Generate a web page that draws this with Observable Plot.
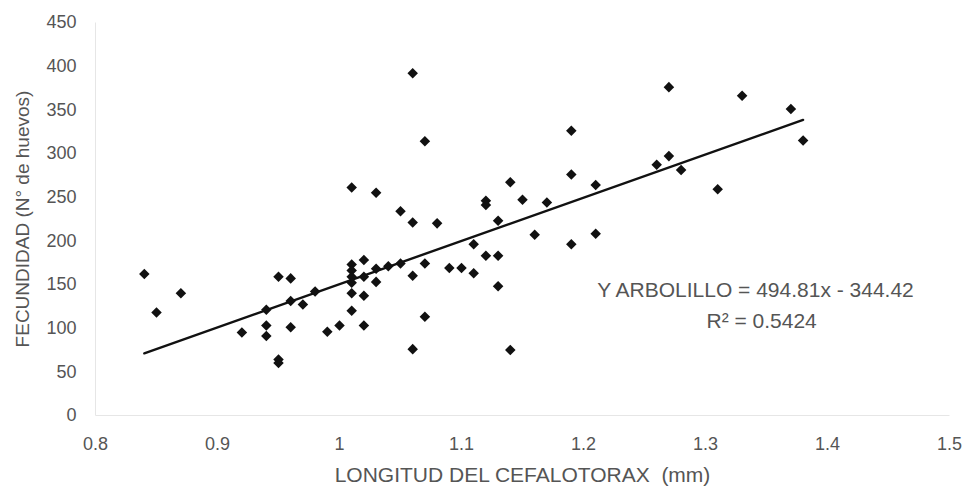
<!DOCTYPE html>
<html>
<head>
<meta charset="utf-8">
<script src="https://cdn.jsdelivr.net/npm/d3@7"></script>
<script src="https://cdn.jsdelivr.net/npm/@observablehq/plot@0.6"></script>
<style>
  html, body { margin: 0; padding: 0; background: #fff; }
  #chart { width: 968px; height: 488px; }
  svg { font-family: "Liberation Sans", Arial, sans-serif; }
</style>
</head>
<body>
<div id="chart"></div>
<script>
// Longitud del cefalotórax (mm)
const lengths = [0.84,0.85,0.87,0.92,0.94,0.94,0.94,0.95,0.95,0.95,0.96,0.96,0.96,0.97,0.98,0.99,1.00,
  1.01,1.01,1.01,1.01,1.01,1.01,1.01,1.02,1.02,1.02,1.02,1.03,1.03,1.03,1.04,1.05,1.05,
  1.06,1.06,1.06,1.06,1.07,1.07,1.07,1.08,1.09,1.10,1.11,1.11,1.12,1.12,1.12,1.13,1.13,1.13,
  1.14,1.14,1.15,1.16,1.17,1.19,1.19,1.19,1.21,1.21,1.26,1.27,1.27,1.28,1.31,1.33,1.37,1.38];
// Fecundidad (N° de huevos)
const eggs = [162,118,140,95,121,103,91,159,64,60,157,131,101,127,142,96,103,
  261,173,166,159,152,140,120,178,159,137,103,255,168,153,171,234,174,
  392,221,160,76,314,174,113,220,169,169,196,163,246,241,183,223,183,148,
  267,75,247,207,244,326,276,196,264,208,287,376,297,281,259,366,351,315];

const xTicks = [0.8,0.9,1,1.1,1.2,1.3,1.4,1.5];
const yTicks = [0,50,100,150,200,250,300,350,400,450];
const slope = 494.81;
const intercept = -344.42;
const equationLines = ["Y ARBOLILLO = 494.81x - 344.42", "R² = 0.5424"];
const xTitle = "LONGITUD DEL CEFALOTORAX  (mm)";
const yTitle = "FECUNDIDAD (N° de huevos)";

const points = lengths.map((x, i) => ({x, y: eggs[i]}));
const xMin = d3.min(lengths), xMax = d3.max(lengths);
const fit = [xMin, xMax].map(x => ({x, y: slope * x + intercept}));
const axisLines = [
  {x1: xTicks[0], y1: yTicks[0], x2: xTicks[0], y2: yTicks[yTicks.length - 1]},
  {x1: xTicks[0], y1: yTicks[0], x2: xTicks[xTicks.length - 1], y2: yTicks[0]}
];
const annotations = [
  {x: 1.341, y: 143, text: equationLines[0]},
  {x: 1.346, y: 108, text: equationLines[1]}
];

const gray = "#555";
const chart = Plot.plot({
  width: 968,
  height: 488,
  marginLeft: 95,
  marginRight: 19,
  marginTop: 22,
  marginBottom: 73,
  style: {fontFamily: "Liberation Sans, Arial, sans-serif", fontSize: "18px", color: gray, background: "#fff"},
  x: {domain: [xTicks[0], xTicks[xTicks.length - 1]]},
  y: {domain: [yTicks[0], yTicks[yTicks.length - 1]]},
  marks: [
    Plot.link(axisLines, {x1: "x1", y1: "y1", x2: "x2", y2: "y2", stroke: "#e6e6e6", strokeWidth: 1}),
    Plot.axisX({ticks: xTicks, tickSize: 0, tickPadding: 22, tickFormat: d => String(d), fill: gray, fontSize: 18, label: null}),
    Plot.axisY({ticks: yTicks, tickSize: 0, tickPadding: 19, fill: gray, fontSize: 18, label: null}),
    Plot.text([xTitle], {frameAnchor: "bottom", dy: 60, textAnchor: "middle", lineAnchor: "middle", text: d => d, fill: gray, fontSize: 21}),
    Plot.text([yTitle], {frameAnchor: "left", dx: -73, rotate: -90, textAnchor: "middle", lineAnchor: "middle", text: d => d, fill: gray, fontSize: 19}),
    Plot.line(fit, {x: "x", y: "y", stroke: "#111", strokeWidth: 2.4}),
    Plot.dot(points, {x: "x", y: "y", symbol: "square", r: 4.2, rotate: 45, fill: "#111", stroke: "none"}),
    Plot.text(annotations, {x: "x", y: "y", text: "text", fill: gray, fontSize: 21, textAnchor: "middle", lineAnchor: "middle"})
  ]
});
document.getElementById("chart").appendChild(chart);
</script>
</body>
</html>
